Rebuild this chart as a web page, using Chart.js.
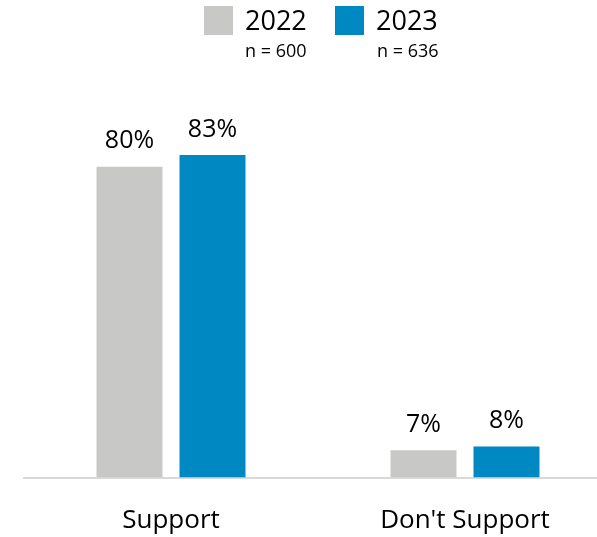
<!DOCTYPE html>
<html>
<head>
<meta charset="utf-8">
<script src="https://cdn.jsdelivr.net/npm/chart.js@4"></script>
<style>
  html, body { margin: 0; padding: 0; background: #fff; overflow: hidden; }
  #wrap { position: relative; width: 597px; height: 537px; overflow: hidden; }
  #chart { position: absolute; left: 0; top: 0; }
  .swatch { position: absolute; width: 29px; height: 29px; top: 6px; }
  .year { position: absolute; top: 6px; font: 27px/27px "Open Sans", sans-serif; color: #000; white-space: nowrap; }
  .n { position: absolute; top: 41px; font: 18px/18px "Open Sans", sans-serif; color: #000; white-space: nowrap; }
</style>
</head>
<body>
<div id="wrap">
  <canvas id="chart" width="612" height="537"></canvas>
  <div class="swatch" style="left:204px;background:#c8c9c7"></div>
  <div class="year" style="left:245px">2022</div>
  <div class="n" style="left:245px">n = 600</div>
  <div class="swatch" style="left:335px;background:#0088c2"></div>
  <div class="year" style="left:376px">2023</div>
  <div class="n" style="left:377px">n = 636</div>
</div>
<script>
// values
const categories = ['Support', "Don't Support"];
const years = ['2022', '2023'];
const values2022 = [80, 7];
const values2023 = [83, 8];
const colors = ['#c8c9c7', '#0088c2'];

// percent labels above each bar
const valueLabels = {
  id: 'valueLabels',
  afterDatasetsDraw(chart) {
    const ctx = chart.ctx;
    ctx.save();
    ctx.font = '25px "Open Sans", sans-serif';
    ctx.fillStyle = '#000';
    ctx.textAlign = 'center';
    ctx.textBaseline = 'alphabetic';
    chart.data.datasets.forEach((ds, i) => {
      chart.getDatasetMeta(i).data.forEach((bar, j) => {
        ctx.fillText(ds.data[j] + '%', bar.x, bar.y - 18.5);
      });
    });
    ctx.restore();
  }
};

const ctx = document.getElementById('chart').getContext('2d');
new Chart(ctx, {
  type: 'bar',
  plugins: [valueLabels],
  data: {
    labels: categories,
    datasets: [
      { label: years[0], data: values2022, backgroundColor: colors[0] },
      { label: years[1], data: values2023, backgroundColor: colors[1] }
    ]
  },
  options: {
    responsive: false,
    animation: false,
    devicePixelRatio: 1,
    categoryPercentage: 0.5646,
    barPercentage: 0.795,
    layout: { padding: { left: 24, right: 0, top: 89, bottom: 0 } },
    plugins: {
      legend: { display: false },
      tooltip: { enabled: false }
    },
    scales: {
      x: {
        grid: { display: false },
        border: { display: true, color: '#d9d9d9', width: 2 },
        ticks: {
          color: '#000',
          font: { family: 'Open Sans', size: 26 },
          padding: 19,
          maxRotation: 0
        },
        afterFit: (s) => { s.height = 59.5; }
      },
      y: {
        display: false,
        min: 0,
        max: 100
      }
    }
  }
});
</script>
</body>
</html>
